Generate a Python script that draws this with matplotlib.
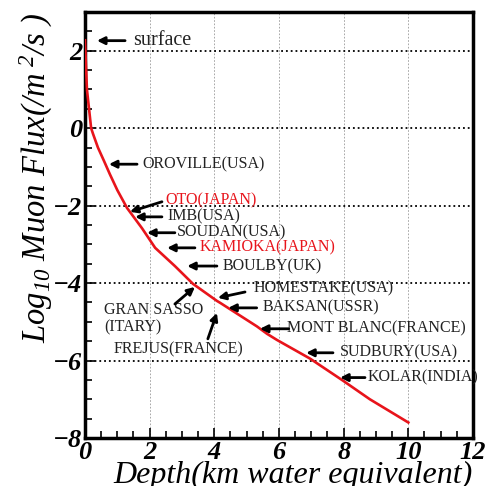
import matplotlib
matplotlib.use("Agg")
import matplotlib.pyplot as plt
from matplotlib.ticker import MultipleLocator

plt.rcParams["font.family"] = ["Liberation Serif", "DejaVu Serif"]
plt.rcParams["mathtext.fontset"] = "custom"
plt.rcParams["mathtext.rm"] = "Liberation Serif:italic"
plt.rcParams["mathtext.it"] = "Liberation Serif:italic"

# muon flux vs depth curve
depth = [0, 0.06, 0.19, 0.25, 0.4, 0.59, 0.77, 1.0, 1.3, 1.76, 2.17, 2.78, 3.34, 4.08,
         4.18, 5.32, 5.63, 5.94, 6.96, 7.98, 8.81, 10.0]
log_flux = [2.27, 1.0, 0.0, -0.15, -0.5, -0.85, -1.19, -1.6, -2.06, -2.58, -3.09, -3.56,
            -4.02, -4.46, -4.51, -5.12, -5.31, -5.47, -5.95, -6.52, -7.0, -7.6]

# laboratory labels
labels = ["surface", "OROVILLE(USA)", "OTO(JAPAN)", "IMB(USA)", "SOUDAN(USA)",
          "KAMIOKA(JAPAN)", "BOULBY(UK)", "GRAN SASSO\n(ITARY)", "FREJUS(FRANCE)",
          "HOMESTAKE(USA)", "BAKSAN(USSR)", "MONT BLANC(FRANCE)", "SUDBURY(USA)",
          "KOLAR(INDIA)"]
label_x = [1.48, 1.76, 2.5, 2.54, 2.85, 3.53, 4.27, 0.59, 0.9, 5.2, 5.5, 6.25, 7.89, 8.75]
label_y = [2.27, -0.93, -1.86, -2.29, -2.7, -3.09, -3.56, -4.92, -5.72, -4.15, -4.64,
           -5.18, -5.8, -6.44]
label_red = ["OTO(JAPAN)", "KAMIOKA(JAPAN)"]

# arrows: tail -> head
tail_x = [1.24, 1.61, 2.38, 2.38, 2.78, 3.4, 4.08, 2.78, 3.8, 4.95, 5.31, 6.3, 7.67, 8.66]
tail_y = [2.26, -0.93, -1.9, -2.29, -2.7, -3.09, -3.56, -4.54, -5.44, -4.23, -4.64,
          -5.18, -5.8, -6.44]
head_x = [0.37, 0.74, 1.39, 1.55, 1.92, 2.54, 3.16, 3.4, 4.08, 4.11, 4.43, 5.41, 6.84, 7.89]
head_y = [2.26, -0.93, -2.16, -2.29, -2.7, -3.09, -3.56, -4.1, -4.77, -4.38, -4.64,
          -5.18, -5.8, -6.44]

fig = plt.figure(figsize=(4.93, 4.86), dpi=100)
ax = fig.add_axes([0.1724, 0.0988, 0.787, 0.8765])

ax.plot(depth, log_flux, color="#e8141b", lw=1.9, zorder=3)

for lab, x, y in zip(labels, label_x, label_y):
    color = "#e8141b" if lab in label_red else "#222222"
    size = 14.5 if lab == "surface" else 11.5
    ax.text(x, y, lab, color=color, fontsize=size, va="center", ha="left",
            linespacing=1.15, zorder=4)

for tx, ty, hx, hy in zip(tail_x, tail_y, head_x, head_y):
    ax.annotate("", xy=(hx, hy), xytext=(tx, ty),
                arrowprops=dict(arrowstyle="-|>", lw=2.0, color="k",
                                mutation_scale=11, shrinkA=0, shrinkB=0),
                zorder=4)

ax.set_xlim(0, 12)
ax.set_ylim(-8, 3)
ax.xaxis.set_major_locator(MultipleLocator(2))
ax.yaxis.set_major_locator(MultipleLocator(2))
ax.xaxis.set_minor_locator(MultipleLocator(0.5))
ax.yaxis.set_minor_locator(MultipleLocator(0.5))

ax.yaxis.grid(True, ls=":", color="k", lw=1.3)
ax.xaxis.grid(True, ls=(0, (2, 2)), color="#999999", lw=0.6)

ax.tick_params(which="both", direction="in", top=False, right=False, width=1.2)
ax.tick_params(which="major", length=7, pad=2)
ax.tick_params(which="minor", length=5)
for lab in ax.get_xticklabels() + ax.get_yticklabels():
    lab.set_fontweight("bold")
    lab.set_fontstyle("italic")
    lab.set_fontsize(19)

for sp in ax.spines.values():
    sp.set_linewidth(2.5)

ax.set_xlabel("Depth(km water equivalent)", fontsize=23, fontstyle="italic")
ax.xaxis.set_label_coords(0.536, -0.053)
ax.set_ylabel(r"$Log_{10}$ Muon Flux(/m$^{\ 2}$/s )", fontsize=23.5, fontstyle="italic")
ax.yaxis.set_label_coords(-0.077, 0.61)

fig.savefig("out.png", dpi=100)
